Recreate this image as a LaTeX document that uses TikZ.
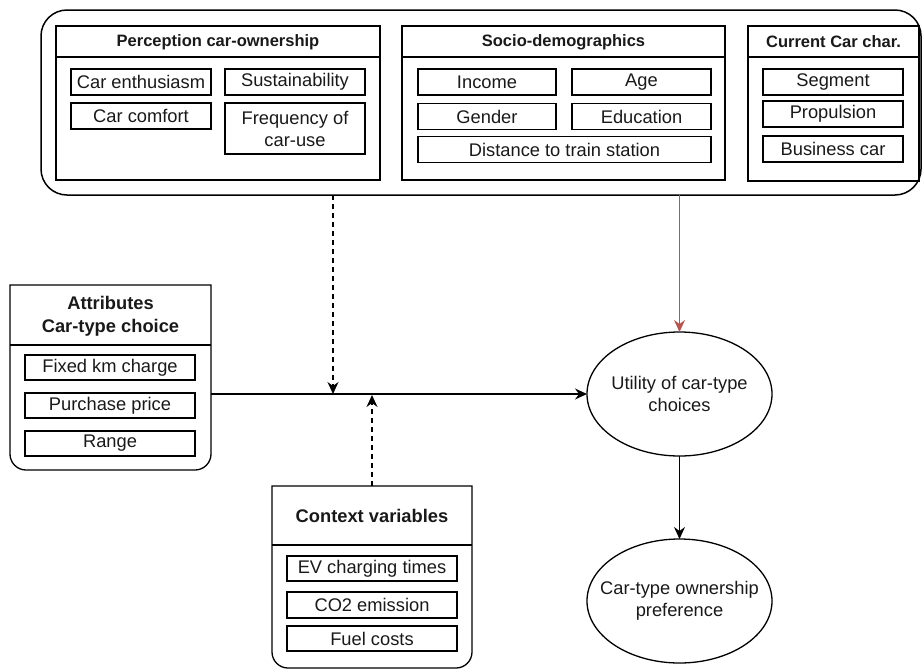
\documentclass[tikz,border=0pt]{standalone}
\usepackage{fontspec}
\setmainfont{Liberation Sans}
\usetikzlibrary{arrows.meta,shapes.geometric}
\definecolor{redline}{HTML}{B85450}
\tikzset{
  x=1pt, y=-1pt,
  every node/.style={inner sep=0pt, outer sep=0pt, text=black!90},
  txt/.style={font=\fontsize{18.3}{22}\selectfont},
  item/.style={txt, draw, line width=1.3pt, rectangle, align=center},
  group/.style={draw, line width=1.3pt, rectangle},
  hdr/.style={font=\fontsize{16.5}{20}\selectfont\bfseries},
  bighdr/.style={font=\fontsize{18.3}{23}\selectfont\bfseries, align=center},
  oval/.style={draw, line width=1.3pt, ellipse},
  ovaltext/.style={txt, align=center},
  link/.style={line width=1.4pt, -{Stealth[length=12pt,width=11pt,inset=4pt]}},
  dashlink/.style={link, dash pattern=on 5pt off 4pt},
}
\begin{document}
\begin{tikzpicture}
\useasboundingbox (0,0) rectangle (922,670);

% top panel
\node[draw, line width=1.5pt, rounded corners=26pt, minimum width=880pt, minimum height=185pt] (outer) at (481,102.5) {};

% perception of car ownership
\node[group, minimum width=324pt, minimum height=154pt] (perc) at (218,103) {};
\draw[line width=1.3pt] ([yshift=-31pt]perc.north west) -- ([yshift=-31pt]perc.north east);
\node[hdr] (perct) at (218,42) {Perception car-ownership};
\node[item, minimum width=140pt, minimum height=26pt] (enth) at (141,82) {Car enthusiasm};
\node[item, minimum width=140pt, minimum height=26pt] (sust) at (295,82) {Sustainability};
\node[item, minimum width=140pt, minimum height=26pt] (comf) at (141,116) {Car comfort};
\node[item, minimum width=140pt, minimum height=51pt] (freq) at (295,128.5) {Frequency of\\car-use};

% socio-demographics
\node[group, minimum width=323pt, minimum height=154pt] (socio) at (563.5,103) {};
\draw[line width=1.3pt] ([yshift=-31pt]socio.north west) -- ([yshift=-31pt]socio.north east);
\node[hdr] (sociot) at (563.5,42) {Socio-demographics};
\node[item, minimum width=138pt, minimum height=26pt] (inc) at (487,82) {Income};
\node[item, minimum width=139pt, minimum height=26pt] (age) at (641.5,82) {Age};
\node[item, minimum width=138pt, minimum height=26pt] (gend) at (487,116.5) {Gender};
\node[item, minimum width=139pt, minimum height=26pt] (edu) at (641.5,116.5) {Education};
\node[item, minimum width=293pt, minimum height=26pt] (dist) at (564.5,149.5) {Distance to train station};

% current car characteristics
\node[group, minimum width=171pt, minimum height=155pt] (curr) at (833.5,103.5) {};
\draw[line width=1.3pt] ([yshift=-31pt]curr.north west) -- ([yshift=-31pt]curr.north east);
\node[hdr] (currt) at (833.5,42) {Current Car char.};
\node[item, minimum width=140pt, minimum height=26pt] (seg) at (833,82) {Segment};
\node[item, minimum width=140pt, minimum height=26pt] (prop) at (833,114) {Propulsion};
\node[item, minimum width=140pt, minimum height=26pt] (bus) at (833,149) {Business car};

% attributes of the car-type choice
\node[minimum width=201pt, minimum height=185pt] (attr) at (110.5,377.5) {};
\draw[line width=1.3pt] (attr.north west) -- ([yshift=16pt]attr.south west)
  arc[start angle=180, end angle=270, radius=16pt] -- ([xshift=-16pt]attr.south east)
  arc[start angle=270, end angle=360, radius=16pt] -- (attr.north east) -- cycle;
\draw[line width=1.3pt] ([yshift=-60pt]attr.north west) -- ([yshift=-60pt]attr.north east);
\node[bighdr] (attrt) at (110.5,316) {Attributes\\Car-type choice};
\node[item, minimum width=170pt, minimum height=25pt] (fixkm) at (110,367.5) {Fixed km charge};
\node[item, minimum width=170pt, minimum height=25pt] (price) at (110,405.5) {Purchase price};
\node[item, minimum width=170pt, minimum height=25pt] (range) at (110,443.5) {Range};

% context variables
\node[minimum width=200pt, minimum height=182pt] (ctx) at (372,577) {};
\draw[line width=1.3pt] (ctx.north west) -- ([yshift=16pt]ctx.south west)
  arc[start angle=180, end angle=270, radius=16pt] -- ([xshift=-16pt]ctx.south east)
  arc[start angle=270, end angle=360, radius=16pt] -- (ctx.north east) -- cycle;
\draw[line width=1.3pt] ([yshift=-59pt]ctx.north west) -- ([yshift=-59pt]ctx.north east);
\node[bighdr] (ctxt) at (372,516) {Context variables};
\node[item, minimum width=170pt, minimum height=25pt] (ev) at (372,568.5) {EV charging times};
\node[item, minimum width=170pt, minimum height=26pt] (co2) at (372,605) {CO2 emission};
\node[item, minimum width=170pt, minimum height=25pt] (fuel) at (372,638.5) {Fuel costs};

% outcomes
\node[oval, minimum width=185pt, minimum height=124pt] (util) at (679.5,394) {};
\node[ovaltext] (utilt) at (util.center) {Utility of car-type\\choices};
\node[oval, minimum width=185pt, minimum height=124pt] (pref) at (679.5,601) {};
\node[ovaltext] (preft) at (pref.center) {Car-type ownership\\preference};

% connectors
\coordinate (join1) at (333,394);
\coordinate (join2) at (372,395);
\draw[line width=1.4pt] (attr.east |- util.west) -- (join1);
\draw[link] (join1) -- (util.west);
\draw[dashlink] (outer.south -| join1) -- (join1);
\draw[dashlink] (ctx.north -| join2) -- (join2);
\draw[link, draw=redline, fill=redline] (outer.south -| util.north) -- (util.north);
\draw[link] (util.south) -- (pref.north);
\end{tikzpicture}
\end{document}
